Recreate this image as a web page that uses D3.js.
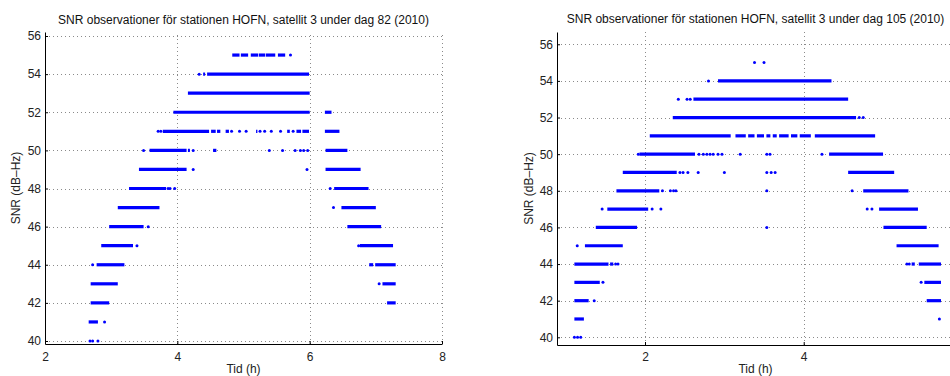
<!DOCTYPE html>
<html>
<head>
<meta charset="utf-8">
<script src="https://cdn.jsdelivr.net/npm/d3@7"></script>
<style>
  body { margin: 0; background: #fff; }
  svg { display: block; font-family: "Liberation Sans", Arial, Helvetica, sans-serif; }
  .grid line { stroke: #8a8a8a; stroke-width: 1; stroke-dasharray: 1,3; }
</style>
</head>
<body>
<div id="chart"></div>
<script>
var width = 950;
var height = 376;

// tick values
var snrTicks = [40, 42, 44, 46, 48, 50, 52, 54, 56];
var day82Ticks = [2, 4, 6, 8];
var day105Ticks = [2, 4];

var day82Title = "SNR observationer för stationen HOFN, satellit 3 under dag 82 (2010)";
var day105Title = "SNR observationer för stationen HOFN, satellit 3 under dag 105 (2010)";

// dense stretches of observations: [SNR, from (h), to (h)]
var day82Runs = [
  [55, 4.83, 4.94], [55, 4.96, 5.07], [55, 5.11, 5.22], [55, 5.23, 5.33], [55, 5.34, 5.48], [55, 5.52, 5.63],
  [54, 4.39, 4.42], [54, 4.45, 5.99],
  [53, 4.16, 6.00],
  [52, 3.94, 6.00], [52, 6.23, 6.33],
  [51, 3.78, 4.48], [51, 4.51, 4.58], [51, 4.60, 4.65], [51, 4.73, 4.78], [51, 5.19, 5.21],
  [51, 5.66, 5.70], [51, 5.80, 5.87], [51, 5.89, 5.99], [51, 6.23, 6.45],
  [50, 3.58, 4.14], [50, 4.16, 4.19], [50, 4.54, 4.59], [50, 6.24, 6.57],
  [49, 3.42, 4.14], [49, 6.24, 6.77],
  [48, 3.27, 3.83], [48, 6.37, 6.89],
  [47, 3.10, 3.73], [47, 6.48, 7.00],
  [46, 2.97, 3.49], [46, 6.57, 7.08],
  [45, 2.85, 3.33], [45, 6.76, 7.26],
  [44, 2.78, 3.20], [44, 6.90, 6.96], [44, 6.99, 7.30],
  [43, 2.69, 3.10], [43, 7.10, 7.30],
  [42, 2.69, 2.97], [42, 7.17, 7.30],
  [41, 2.66, 2.80]
];

// single observations: [SNR, time (h)]
var day82Dots = [
  [55, 5.71],
  [54, 4.33],
  [51, 3.71], [51, 3.75], [51, 4.82], [51, 4.94], [51, 5.04], [51, 5.25], [51, 5.32],
  [51, 5.42], [51, 5.56], [51, 5.75],
  [50, 3.49], [50, 4.24], [50, 5.39], [50, 5.59], [50, 5.78], [50, 5.86], [50, 5.91], [50, 5.97],
  [49, 4.24], [49, 5.96],
  [48, 3.86], [48, 3.89], [48, 3.96], [48, 6.31],
  [47, 6.36],
  [46, 3.56],
  [45, 3.39], [45, 6.74],
  [44, 2.72],
  [43, 7.05],
  [41, 2.90],
  [40, 2.68], [40, 2.72], [40, 2.80]
];

var day105Runs = [
  [54, 2.92, 4.35],
  [53, 2.61, 4.56],
  [52, 2.35, 4.66],
  [51, 2.06, 3.08], [51, 3.14, 3.27], [51, 3.30, 3.38], [51, 3.41, 3.50], [51, 3.53, 3.58],
  [51, 3.61, 3.66], [51, 3.69, 3.81], [51, 3.84, 3.92], [51, 3.95, 4.09], [51, 4.14, 4.90],
  [50, 1.93, 2.63], [50, 4.32, 5.00],
  [49, 1.72, 2.40], [49, 4.56, 5.14],
  [48, 1.64, 2.18], [48, 4.75, 5.32],
  [47, 1.525, 2.04], [47, 4.95, 5.44],
  [46, 1.38, 1.90], [46, 5.005, 5.55],
  [45, 1.243, 1.72], [45, 5.17, 5.70],
  [44, 1.11, 1.54], [44, 1.56, 1.60], [44, 5.36, 5.40], [44, 5.45, 5.73],
  [43, 1.11, 1.43], [43, 5.52, 5.73],
  [42, 1.11, 1.29], [42, 5.55, 5.73],
  [41, 1.11, 1.23]
];

var day105Dots = [
  [55, 3.38], [55, 3.50],
  [54, 2.80],
  [53, 2.42], [53, 2.53], [53, 2.57],
  [52, 4.70], [52, 4.75],
  [50, 1.915], [50, 2.68], [50, 2.735], [50, 2.78], [50, 2.82], [50, 2.86], [50, 2.92], [50, 2.97],
  [50, 3.20], [50, 3.535], [50, 3.575], [50, 4.23],
  [49, 2.44], [49, 2.48], [49, 2.54], [49, 2.67], [49, 3.00], [49, 3.535], [49, 3.59], [49, 3.64],
  [48, 2.22], [48, 2.32], [48, 2.36], [48, 2.39], [48, 3.535], [48, 4.61],
  [47, 1.46], [47, 2.09], [47, 2.20], [47, 4.80], [47, 4.86],
  [46, 3.535],
  [45, 1.146],
  [44, 1.63], [44, 1.66], [44, 5.30], [44, 5.33],
  [43, 1.47], [43, 5.48],
  [42, 1.36],
  [41, 5.71],
  [40, 1.11], [40, 1.15], [40, 1.19]
];

var svg = d3.select("#chart")
  .append("svg")
  .attr("width", width)
  .attr("height", height);

function drawChart(opt) {
  var xScale = d3.scaleLinear().domain(opt.xDomain).range(opt.xRange);
  var yScale = d3.scaleLinear().domain(opt.yDomain).range(opt.yRange);
  var g = svg.append("g");

  // dotted grid
  var grid = g.append("g").attr("class", "grid");
  grid.selectAll(".gx")
    .data(opt.xTicks)
    .enter().append("line")
    .attr("x1", function(d) { return Math.round(xScale(d)) + 0.5; })
    .attr("x2", function(d) { return Math.round(xScale(d)) + 0.5; })
    .attr("y1", opt.yRange[0])
    .attr("y2", opt.yRange[1]);
  grid.selectAll(".gy")
    .data(snrTicks)
    .enter().append("line")
    .attr("y1", function(d) { return Math.round(yScale(d)) + 0.5; })
    .attr("y2", function(d) { return Math.round(yScale(d)) + 0.5; })
    .attr("x1", opt.xRange[0])
    .attr("x2", opt.xRange[1]);

  // observations
  g.selectAll(".run")
    .data(opt.runs)
    .enter().append("line")
    .attr("x1", function(d) { return xScale(d[1]); })
    .attr("x2", function(d) { return xScale(d[2]); })
    .attr("y1", function(d) { return yScale(d[0]); })
    .attr("y2", function(d) { return yScale(d[0]); })
    .attr("stroke", "#0000ff")
    .attr("stroke-width", 3.2);
  g.selectAll(".dot")
    .data(opt.dots)
    .enter().append("circle")
    .attr("cx", function(d) { return xScale(d[1]); })
    .attr("cy", function(d) { return yScale(d[0]); })
    .attr("r", 1.5)
    .attr("fill", "#0000ff");

  // axes, ticks pointing inwards
  var xAxis = d3.axisBottom(xScale).tickValues(opt.xTicks).tickFormat(d3.format("d"))
    .tickSizeInner(-3).tickSizeOuter(0).tickPadding(opt.xPad);
  var yAxis = d3.axisLeft(yScale).tickValues(snrTicks).tickFormat(d3.format("d"))
    .tickSizeInner(-3).tickSizeOuter(0).tickPadding(4);

  g.append("g")
    .attr("transform", "translate(0," + opt.yRange[0] + ")")
    .call(xAxis);
  g.append("g")
    .attr("transform", "translate(" + opt.xRange[0] + ",0)")
    .call(yAxis);
  g.selectAll(".tick text")
    .attr("font-size", 12)
    .attr("font-family", null)
    .attr("fill", "#222");
  g.selectAll(".domain, .tick line").attr("stroke", "#000");

  var cx = (opt.xRange[0] + opt.xRange[1]) / 2;
  g.append("text")
    .attr("x", cx)
    .attr("y", opt.titleY)
    .attr("text-anchor", "middle")
    .attr("font-size", 12)
    .attr("fill", "#111")
    .text(opt.title);
  g.append("text")
    .attr("x", cx)
    .attr("y", 373)
    .attr("text-anchor", "middle")
    .attr("font-size", 12)
    .attr("fill", "#222")
    .text("Tid (h)");
  g.append("text")
    .attr("transform", "translate(" + opt.yLabelX + "," + ((opt.yRange[0] + opt.yRange[1]) / 2) + ") rotate(-90)")
    .attr("text-anchor", "middle")
    .attr("font-size", 12)
    .attr("fill", "#222")
    .text("SNR (dB\u2013Hz)");
}

drawChart({
  xDomain: [2, 8], xRange: [45, 442],
  yDomain: [39.843, 56.21], yRange: [344, 32],
  xTicks: day82Ticks, xPad: 8,
  runs: day82Runs, dots: day82Dots,
  title: day82Title, titleY: 24, yLabelX: 20
});

drawChart({
  xDomain: [0.891, 5.894], xRange: [557, 954],
  yDomain: [39.58, 56.67], yRange: [345, 32],
  xTicks: day105Ticks, xPad: 7,
  runs: day105Runs, dots: day105Dots,
  title: day105Title, titleY: 23, yLabelX: 533
});
</script>
</body>
</html>
